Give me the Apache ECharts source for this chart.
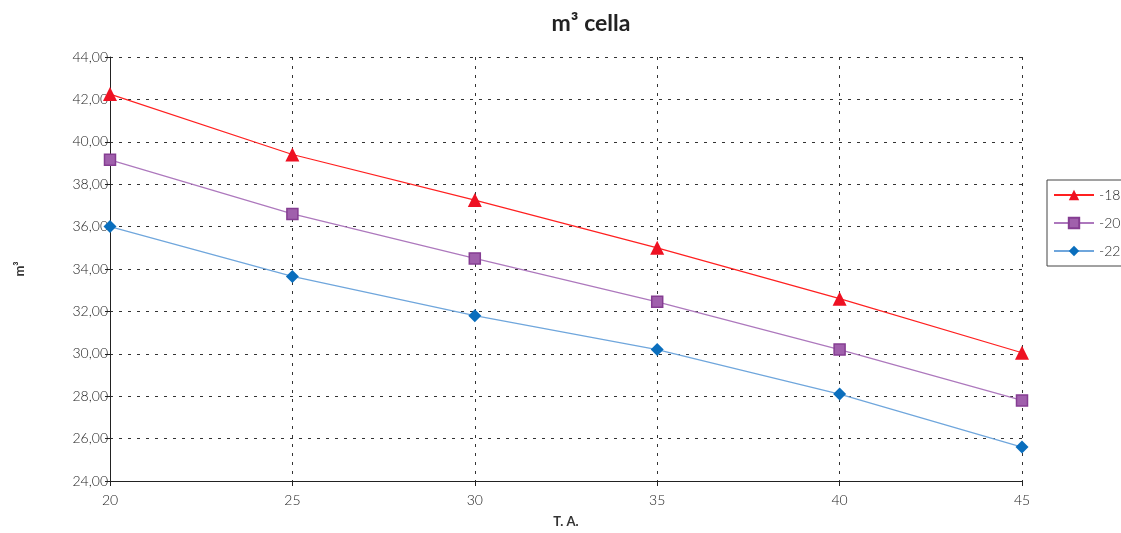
<!DOCTYPE html>
<html><head><meta charset="utf-8">
<script src="https://cdn.jsdelivr.net/npm/echarts@6/dist/echarts.min.js"></script>
<style>html,body{margin:0;padding:0;background:#fff}#c{width:1121px;height:533px}</style>
</head><body><div id="c"></div>
<script>
const categories = [20, 25, 30, 35, 40, 45];
const s18 = [42.25, 39.4, 37.25, 35.0, 32.6, 30.05];
const s20 = [39.15, 36.6, 34.5, 32.45, 30.2, 27.8];
const s22 = [36.0, 33.65, 31.8, 30.2, 28.1, 25.6];
const seriesNames = ['-18', '-20', '-22'];
const FONT = 'Lato, "Open Sans", sans-serif';

const chart = echarts.init(document.getElementById('c'), null, {renderer: 'canvas'});
const pairs = arr => categories.map((x, i) => [x, arr[i]]);
chart.setOption({
  animation: false,
  title: {text: 'm³ cella', left: 586, top: 7, textAlign: 'center',
    textStyle: {fontFamily: FONT, fontSize: 23, fontWeight: 'bold', color: '#222'}},
  grid: {left: 110, right: 99, top: 57, bottom: 52, containLabel: false},
  legend: {
    orient: 'vertical', left: 1047, top: 180,
    padding: [8, 40, 8, 6], itemGap: 14, itemWidth: 40, itemHeight: 13,
    borderColor: '#444', borderWidth: 1,
    textStyle: {fontFamily: FONT, fontSize: 14, fontWeight: 300, color: '#222'},
    data: seriesNames
  },
  xAxis: {
    type: 'value', min: 20, max: 45, interval: 5,
    name: 'T. A.', nameLocation: 'middle', nameGap: 34,
    nameTextStyle: {fontFamily: FONT, fontSize: 13, fontWeight: 'bold', color: '#333'},
    axisLine: {lineStyle: {color: '#222', width: 1}},
    axisTick: {show: true, length: 5, lineStyle: {color: '#222'}},
    axisLabel: {fontFamily: FONT, fontSize: 14, fontWeight: 300, color: '#222', margin: 12},
    splitLine: {show: true, lineStyle: {type: [3, 6], color: '#333', width: 1}}
  },
  yAxis: {
    type: 'value', min: 24, max: 44, interval: 2,
    name: 'm³', nameLocation: 'middle', nameGap: 84, nameRotate: 90,
    nameTextStyle: {fontFamily: FONT, fontSize: 13, fontWeight: 'bold', color: '#333'},
    axisLine: {show: true, lineStyle: {color: '#222', width: 1}},
    axisTick: {show: true, length: 5, lineStyle: {color: '#222'}},
    axisLabel: {fontFamily: FONT, fontSize: 14, fontWeight: 300, color: '#222', margin: 2,
      formatter: v => v.toFixed(2).replace('.', ',')},
    splitLine: {show: true, lineStyle: {type: [3, 6], color: '#333', width: 1}}
  },
  series: [
    {name: seriesNames[0], type: 'line', data: pairs(s18), symbol: 'triangle', symbolSize: 14,
      lineStyle: {color: '#ff2020', width: 1.2}, itemStyle: {color: '#ee1122'}},
    {name: seriesNames[1], type: 'line', data: pairs(s20), symbol: 'rect', symbolSize: 11,
      lineStyle: {color: '#ad78bd', width: 1.2}, itemStyle: {color: '#a060ac', borderColor: '#853d92', borderWidth: 1.5}},
    {name: seriesNames[2], type: 'line', data: pairs(s22), symbol: 'diamond', symbolSize: 13,
      lineStyle: {color: '#6fa6dc', width: 1.2}, itemStyle: {color: '#0a6ebd'}}
  ]
});
</script></body></html>
